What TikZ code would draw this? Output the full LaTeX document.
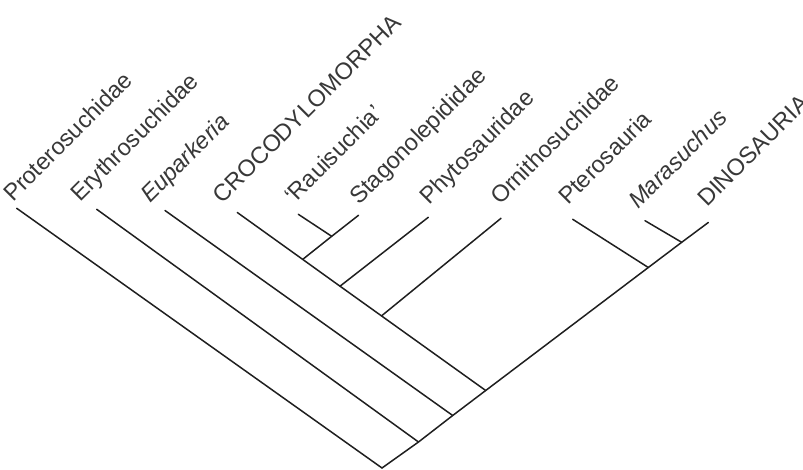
\documentclass[tikz,border=0pt]{standalone}
\usepackage{fontspec}
\setmainfont{Liberation Sans}
\begin{document}
\begin{tikzpicture}[x=1pt,y=-1pt,
  branch/.style={line width=1.5pt, draw=black!88, line cap=round},
  taxon/.style={rotate=45, anchor=base west, inner sep=0pt,
    font=\fontsize{23.5}{28}\selectfont, text=black!78}]
\useasboundingbox (0,0) rectangle (803,470);

% internal nodes of the tree
\coordinate (root) at (382,468);
\coordinate (n1)   at (418.5,442);
\coordinate (n2)   at (452.7,415.5);
\coordinate (n3)   at (485.7,390.5);
\coordinate (nO)   at (381.5,315.9);
\coordinate (nP)   at (340,286.2);
\coordinate (nR)   at (302.7,259.4);
\coordinate (nRS)  at (331.7,236.3);
\coordinate (nPt)  at (648.3,267.5);
\coordinate (nMD)  at (681.7,242.3);

% leaf tips
\coordinate (lProto)  at (16.7,208.3);
\coordinate (lEryth)  at (96.7,209.3);
\coordinate (lEup)    at (165,210.5);
\coordinate (lCroco)  at (237.3,212.5);
\coordinate (lRau)    at (298.3,214.3);
\coordinate (lStag)   at (358.5,215.3);
\coordinate (lPhyto)  at (428.3,217.3);
\coordinate (lOrnith) at (501,218.3);
\coordinate (lPtero)  at (572.7,219.3);
\coordinate (lMara)   at (645,220.7);
\coordinate (lDino)   at (708.3,222.5);

% branches
\draw[branch] (lProto) -- (root);
\draw[branch] (root) -- (n1) -- (n2) -- (n3) -- (nPt) -- (nMD) -- (lDino);
\draw[branch] (lEryth) -- (n1);
\draw[branch] (lEup) -- (n2);
\draw[branch] (lCroco) -- (nR) -- (nP) -- (nO) -- (n3);
\draw[branch] (nR) -- (nRS) -- (lStag);
\draw[branch] (lRau) -- (nRS);
\draw[branch] (nP) -- (lPhyto);
\draw[branch] (nO) -- (lOrnith);
\draw[branch] (lPtero) -- (nPt);
\draw[branch] (lMara) -- (nMD);

% taxon names
\node[taxon] (tProto)  at (13,203)  {Proterosuchidae};
\node[taxon] (tEryth)  at (80,203)  {Erythrosuchidae};
\node[taxon] (tEup)    at (150,204) {\itshape Euparkeria};
\node[taxon] (tCroco)  at (222,205) {CROCODYLOMORPHA};
\node[taxon] (tRau)    at (294,205) {‘Rauisuchia’};
\node[taxon] (tStag)   at (359,206) {Stagonolepididae};
\node[taxon] (tPhyto)  at (429,206) {Phytosauridae};
\node[taxon] (tOrnith) at (500,206) {Ornithosuchidae};
\node[taxon] (tPtero)  at (568,206) {Pterosauria};
\node[taxon] (tMara)   at (638,210) {\itshape Marasuchus};
\node[taxon] (tDino)   at (707,208) {DINOSAURIA};
\end{tikzpicture}
\end{document}
